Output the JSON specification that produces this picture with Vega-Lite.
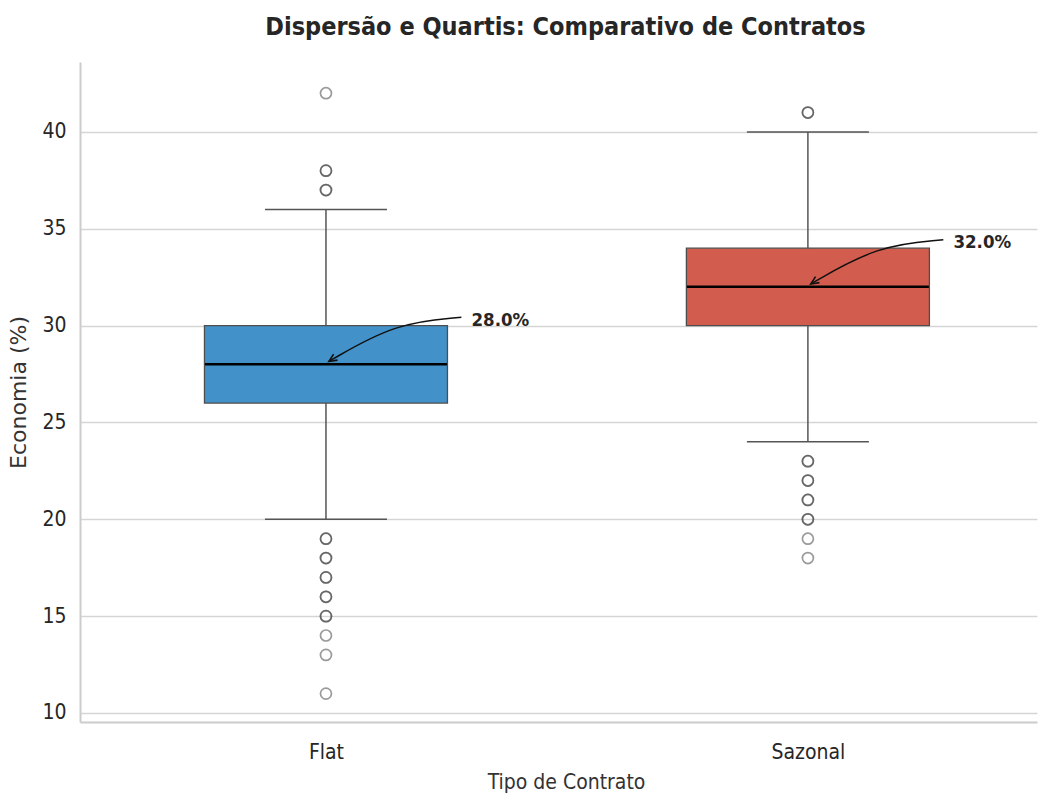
{
  "$schema": "https://vega.github.io/schema/vega-lite/v6.json",
  "width": 957,
  "height": 660,
  "autosize": {"type": "none"},
  "padding": {"left": 80, "top": 62, "right": 2, "bottom": 72},
  "background": "white",
  "title": {
    "text": "Dispersão e Quartis: Comparativo de Contratos",
    "font": "DejaVu Sans Condensed, DejaVu Sans",
    "fontSize": 25,
    "fontWeight": "bold",
    "color": "#262626",
    "anchor": "middle",
    "dx": 7,
    "offset": 22
  },
  "config": {
    "view": {"stroke": null},
    "axis": {
      "labelFont": "DejaVu Sans Condensed, DejaVu Sans",
      "labelFontSize": 21,
      "labelColor": "#262626",
      "titleFontWeight": "normal",
      "titleColor": "#333333",
      "domainColor": "#cccccc",
      "domainWidth": 2,
      "ticks": false,
      "tickSize": 0
    }
  },
  "datasets": {
    "stats": [
      {"grupo": "Flat", "pos": 0, "lo": 20, "q1": 26, "med": 28, "q3": 30, "hi": 36},
      {"grupo": "Sazonal", "pos": 1, "lo": 24, "q1": 30, "med": 32, "q3": 34, "hi": 40}
    ],
    "outliers": [
      {"grupo": "Flat", "pos": 0, "valor": 42},
      {"grupo": "Flat", "pos": 0, "valor": 38},
      {"grupo": "Flat", "pos": 0, "valor": 38},
      {"grupo": "Flat", "pos": 0, "valor": 37},
      {"grupo": "Flat", "pos": 0, "valor": 37},
      {"grupo": "Flat", "pos": 0, "valor": 19},
      {"grupo": "Flat", "pos": 0, "valor": 19},
      {"grupo": "Flat", "pos": 0, "valor": 18},
      {"grupo": "Flat", "pos": 0, "valor": 18},
      {"grupo": "Flat", "pos": 0, "valor": 17},
      {"grupo": "Flat", "pos": 0, "valor": 17},
      {"grupo": "Flat", "pos": 0, "valor": 16},
      {"grupo": "Flat", "pos": 0, "valor": 16},
      {"grupo": "Flat", "pos": 0, "valor": 15},
      {"grupo": "Flat", "pos": 0, "valor": 15},
      {"grupo": "Flat", "pos": 0, "valor": 14},
      {"grupo": "Flat", "pos": 0, "valor": 13},
      {"grupo": "Flat", "pos": 0, "valor": 11},
      {"grupo": "Sazonal", "pos": 1, "valor": 41},
      {"grupo": "Sazonal", "pos": 1, "valor": 41},
      {"grupo": "Sazonal", "pos": 1, "valor": 23},
      {"grupo": "Sazonal", "pos": 1, "valor": 23},
      {"grupo": "Sazonal", "pos": 1, "valor": 22},
      {"grupo": "Sazonal", "pos": 1, "valor": 22},
      {"grupo": "Sazonal", "pos": 1, "valor": 21},
      {"grupo": "Sazonal", "pos": 1, "valor": 21},
      {"grupo": "Sazonal", "pos": 1, "valor": 20},
      {"grupo": "Sazonal", "pos": 1, "valor": 20},
      {"grupo": "Sazonal", "pos": 1, "valor": 19},
      {"grupo": "Sazonal", "pos": 1, "valor": 18}
    ],
    "setas": [
      {"grupo": "Flat", "ordem": 0, "x": 0.281, "y": 30.43},
      {"grupo": "Flat", "ordem": 1, "x": 0.144, "y": 30.14},
      {"grupo": "Flat", "ordem": 2, "x": 0.006, "y": 28.15},
      {"grupo": "Sazonal", "ordem": 0, "x": 1.281, "y": 34.43},
      {"grupo": "Sazonal", "ordem": 1, "x": 1.144, "y": 34.14},
      {"grupo": "Sazonal", "ordem": 2, "x": 1.006, "y": 32.15}
    ],
    "rotulos": [
      {"grupo": "Flat", "x": 0.302, "y": 30.3, "texto": "28.0%"},
      {"grupo": "Sazonal", "x": 1.302, "y": 34.3, "texto": "32.0%"}
    ]
  },
  "layer": [
    {
      "data": {"name": "stats"},
      "mark": {"type": "rule", "color": "#555555", "strokeWidth": 1.5},
      "encoding": {
        "x": {
          "field": "pos",
          "type": "quantitative",
          "scale": {"domain": [-0.5, 1.465], "nice": false, "zero": false},
          "axis": {
            "values": [0, 1],
            "labelExpr": "datum.value == 0 ? 'Flat' : 'Sazonal'",
            "grid": false,
            "labelPadding": 19,
            "title": "Tipo de Contrato",
            "titleFont": "DejaVu Sans Condensed, DejaVu Sans",
            "titleFontSize": 21,
            "titlePadding": 9,
            "titleX": 486
          }
        },
        "y": {
          "field": "lo",
          "type": "quantitative",
          "scale": {"domain": [9.535, 43.61], "nice": false, "zero": false},
          "axis": {
            "values": [10, 15, 20, 25, 30, 35, 40],
            "grid": true,
            "gridColor": "#d5d5d5",
            "gridWidth": 1.5,
            "labelPadding": 14,
            "title": "Economia (%)",
            "titleFont": "DejaVu Sans",
            "titleFontSize": 22,
            "titlePadding": 11
          }
        },
        "y2": {"field": "q1"}
      }
    },
    {
      "data": {"name": "stats"},
      "mark": {"type": "rule", "color": "#555555", "strokeWidth": 1.5},
      "encoding": {
        "x": {"field": "pos", "type": "quantitative"},
        "y": {"field": "q3", "type": "quantitative"},
        "y2": {"field": "hi"}
      }
    },
    {
      "data": {"name": "stats"},
      "mark": {"type": "tick", "orient": "horizontal", "size": 122, "thickness": 1.5, "color": "#555555", "opacity": 1},
      "encoding": {
        "x": {"field": "pos", "type": "quantitative"},
        "y": {"field": "lo", "type": "quantitative"}
      }
    },
    {
      "data": {"name": "stats"},
      "mark": {"type": "tick", "orient": "horizontal", "size": 122, "thickness": 1.5, "color": "#555555", "opacity": 1},
      "encoding": {
        "x": {"field": "pos", "type": "quantitative"},
        "y": {"field": "hi", "type": "quantitative"}
      }
    },
    {
      "data": {"name": "stats"},
      "mark": {"type": "bar", "width": 243, "stroke": "#4d4d4d", "strokeWidth": 1.3, "opacity": 1},
      "encoding": {
        "x": {"field": "pos", "type": "quantitative"},
        "y": {"field": "q1", "type": "quantitative"},
        "y2": {"field": "q3"},
        "color": {
          "field": "grupo",
          "type": "nominal",
          "scale": {"domain": ["Flat", "Sazonal"], "range": ["#4292c9", "#d25c4d"]},
          "legend": null
        }
      }
    },
    {
      "data": {"name": "stats"},
      "mark": {"type": "tick", "orient": "horizontal", "size": 242, "thickness": 2.5, "color": "#000000", "opacity": 1},
      "encoding": {
        "x": {"field": "pos", "type": "quantitative"},
        "y": {"field": "med", "type": "quantitative"}
      }
    },
    {
      "data": {"name": "outliers"},
      "mark": {"type": "point", "shape": "circle", "filled": false, "size": 121, "stroke": "#333333", "strokeWidth": 1.7, "strokeOpacity": 0.7},
      "encoding": {
        "x": {"field": "pos", "type": "quantitative"},
        "y": {"field": "valor", "type": "quantitative"}
      }
    },
    {
      "data": {"name": "setas"},
      "mark": {"type": "line", "interpolate": "basis", "color": "#111111", "strokeWidth": 1.5},
      "encoding": {
        "x": {"field": "x", "type": "quantitative"},
        "y": {"field": "y", "type": "quantitative"},
        "detail": {"field": "grupo"},
        "order": {"field": "ordem", "type": "quantitative"}
      }
    },
    {
      "data": {"name": "setas"},
      "transform": [{"filter": "datum.ordem == 2"}],
      "mark": {"type": "point", "shape": "M-0.45,1L0,0L0.45,1", "filled": false, "size": 256, "stroke": "#111111", "strokeWidth": 1.6, "angle": 237, "opacity": 1},
      "encoding": {
        "x": {"field": "x", "type": "quantitative"},
        "y": {"field": "y", "type": "quantitative"}
      }
    },
    {
      "data": {"name": "rotulos"},
      "mark": {"type": "text", "align": "left", "baseline": "middle", "font": "DejaVu Sans Condensed, DejaVu Sans", "fontSize": 18.5, "fontWeight": "bold", "color": "#262626"},
      "encoding": {
        "x": {"field": "x", "type": "quantitative"},
        "y": {"field": "y", "type": "quantitative"},
        "text": {"field": "texto"}
      }
    },
    {
      "mark": {"type": "rule", "color": "#cccccc", "strokeWidth": 2},
      "encoding": {"y": {"datum": 43.61}}
    }
  ]
}
